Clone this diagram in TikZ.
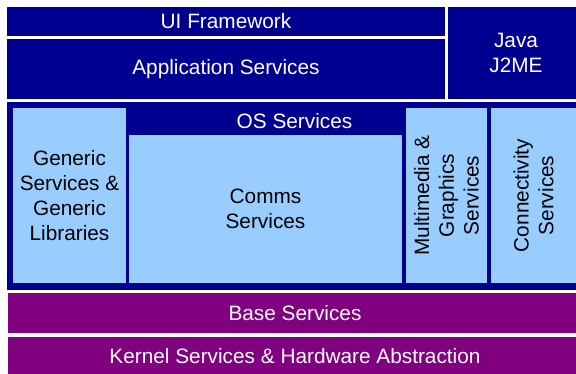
\documentclass[tikz,border=0pt]{standalone}
\usepackage{fontspec}
\setmainfont{Liberation Sans}

\definecolor{navy}{RGB}{0,0,144}
\definecolor{paleblue}{RGB}{153,204,255}
\definecolor{plum}{RGB}{128,0,128}

\begin{document}
\begin{tikzpicture}[x = 1pt, y = -1pt,
    every node/.style={font=\fontsize{20.8}{24.8}\selectfont, inner sep=0pt, align=center},
    darkbox/.style={fill=navy, text=white},
    lightbox/.style={fill=paleblue, text=black},
    basebox/.style={fill=plum, text=white}]

        \useasboundingbox (0, 0) rectangle (576, 374);
        \clip (0, 0) rectangle (576, 374);
        \fill [white] (0, 0) rectangle (576, 374);

        % Top layer
        \node (ui) [darkbox, minimum width = 438pt, minimum height = 29pt] at (226, 21.5) {UI Framework};
        \node (apps) [darkbox, minimum width = 438pt, minimum height = 60pt] at (226, 69) {Application Services};
        \node (java) [darkbox, minimum width = 136pt, minimum height = 92pt] at (516, 53) {Java\\J2ME};

        % OS Services
        \node (lower) [darkbox, minimum width = 585pt, minimum height = 188pt] at (299.5, 196) {};
        \node (os) [text = white] at (294.5, 121.5) {OS Services};

        %% Inner blocks
        \node (generic) [lightbox, minimum width = 113pt, minimum height = 175pt] at (69.5, 195.5)
            {Generic\\Services \&\\Generic\\Libraries};
        \node (comms) [lightbox, minimum width = 273pt, minimum height = 148pt] at (265.5, 209) {Comms\\Services};
        \node (mmgfx) [lightbox, rotate = 90, minimum width = 175pt, minimum height = 81pt] at (446.5, 195.5)
            {Multimedia \&\\Graphics\\Services};
        \node (conn) [lightbox, rotate = 90, minimum width = 175pt, minimum height = 85pt] at (533.5, 195.5)
            {Connectivity\\Services};

        % Bottom layers
        \node (base) [basebox, minimum width = 574pt, minimum height = 40pt] at (295, 313) {Base Services};
        \node (kernel) [basebox, minimum width = 574pt, minimum height = 38pt] at (295, 356)
            {Kernel Services \& Hardware Abstraction};

    \end{tikzpicture}
\end{document}
